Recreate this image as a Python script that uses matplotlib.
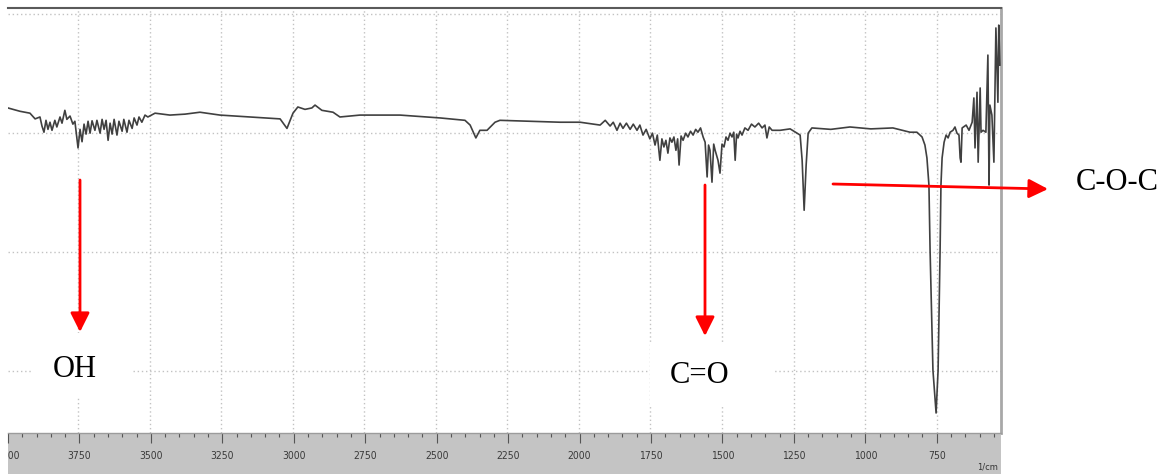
import matplotlib
matplotlib.use("Agg")
import matplotlib.pyplot as plt
from matplotlib.patches import Rectangle, FancyArrowPatch

# ---------------- data ----------------
wavenumber = [
    # 4000-3500 (O-H region)
    3995, 3953, 3918, 3900, 3883, 3876, 3869, 3862, 3855, 3848,
    3841, 3831, 3824, 3813, 3806, 3796, 3789, 3778, 3768, 3761,
    3756, 3750, 3743, 3736, 3729, 3722, 3715, 3708, 3701, 3691,
    3684, 3673, 3666, 3659, 3652, 3645, 3638, 3631, 3624, 3614,
    3607, 3596, 3590, 3579, 3572, 3561, 3554, 3544, 3537, 3527,
    3516, 3506,
    # 3500-2000
    3481, 3429, 3376, 3324, 3254, 3149, 3044, 3020, 2999, 2982,
    2957, 2933, 2922, 2898, 2859, 2835, 2765, 2625, 2485, 2398,
    2380, 2360, 2346, 2321, 2293, 2276, 2066, 1996,
    # 2000-1300 (C=O region)
    1926, 1908, 1891, 1880, 1867, 1856, 1846, 1834, 1821, 1810,
    1797, 1787, 1776, 1765, 1752, 1743, 1734, 1726, 1717, 1710,
    1703, 1696, 1689, 1682, 1675, 1668, 1661, 1655, 1650, 1643,
    1636, 1627, 1619, 1610, 1601, 1592, 1584, 1575, 1566, 1559,
    1552, 1547, 1542, 1535, 1529, 1524, 1514, 1507, 1500, 1493,
    1486, 1479, 1472, 1465, 1459, 1454, 1449, 1444, 1437, 1430,
    1420, 1409, 1397, 1385, 1372, 1360, 1350, 1343, 1335, 1325,
    # 1300-520
    1297, 1262, 1238, 1227, 1220, 1213, 1206, 1199, 1186, 1120,
    1053, 980, 903, 843, 819, 801, 791, 784, 777, 773,
    763, 752, 745, 738, 735, 731, 724, 717, 710, 703,
    693, 686, 679, 672, 668, 665, 661, 647, 637, 626,
    620, 616, 609, 605, 598, 595, 588, 578, 571, 567,
    564, 557, 550, 543, 536, 533, 529,
]
transmittance = [
    80.3, 79.6, 79.2, 78.0, 78.4, 76.5, 75.2, 77.7, 75.8, 77.3,
    75.6, 77.7, 76.3, 78.4, 77.1, 79.8, 77.9, 78.6, 76.9, 77.5,
    75.0, 71.9, 75.8, 73.2, 76.9, 74.8, 77.5, 75.0, 77.6, 75.6,
    77.7, 75.0, 77.9, 75.8, 77.7, 73.5, 77.1, 74.8, 77.9, 74.6,
    77.5, 75.4, 77.9, 75.2, 77.7, 76.0, 78.2, 76.7, 78.4, 77.3,
    78.8, 78.4,
    79.2, 78.8, 79.0, 79.4, 78.8, 78.4, 78.0, 76.0, 79.2, 80.5,
    80.0, 80.3, 80.9, 79.8, 79.4, 78.4, 78.8, 78.8, 78.2, 77.7,
    76.7, 74.0, 75.6, 75.6, 77.3, 77.7, 77.3, 77.3,
    76.7, 77.7, 76.5, 77.3, 75.6, 77.1, 76.0, 77.1, 75.8, 76.9,
    75.6, 76.7, 74.6, 75.8, 73.8, 75.0, 72.5, 74.6, 69.3, 73.8,
    72.1, 73.5, 70.8, 74.0, 73.1, 74.2, 71.4, 73.8, 68.3, 74.4,
    73.5, 75.0, 74.2, 75.4, 74.6, 75.8, 75.2, 76.1, 74.2, 73.1,
    65.8, 72.5, 71.4, 64.7, 72.7, 71.4, 69.3, 66.6, 72.7, 72.1,
    74.2, 73.5, 75.0, 74.2, 75.2, 69.3, 74.8, 74.0, 75.4, 74.6,
    76.1, 75.6, 76.9, 76.3, 77.1, 76.1, 76.7, 74.0, 76.3, 75.6,
    75.6, 75.9, 75.0, 74.6, 69.3, 58.8, 68.3, 75.0, 76.1, 75.8,
    76.3, 75.9, 76.1, 75.2, 75.2, 74.2, 72.5, 69.8, 64.1, 50.4,
    25.2, 16.2, 25.2, 50.4, 64.1, 69.8, 73.1, 74.6, 74.0, 75.2,
    75.6, 76.3, 75.0, 74.6, 69.8, 68.9, 76.1, 76.7, 75.6, 77.3,
    82.4, 71.9, 83.6, 68.9, 84.5, 75.2, 75.6, 75.2, 91.4, 64.1,
    80.9, 78.8, 68.9, 97.1, 81.5, 97.7, 89.3,
]
assert len(wavenumber) == len(transmittance)

tick_values = [4000, 3750, 3500, 3250, 3000, 2750, 2500, 2250, 2000,
               1750, 1500, 1250, 1000, 750]
grid_x = [3750, 3500, 3250, 3000, 2750, 2500, 2250, 2000, 1750, 1500, 1250, 1000, 750]
grid_y = [100, 75, 50, 25]

labels = ["OH", "C=O", "C-O-C"]

# ---------------- figure ----------------
W, H = 1164, 474
fig = plt.figure(figsize=(W / 100, H / 100), dpi=100)
fig.patch.set_facecolor("white")

def fx(px):
    return px / W

def fy(py):
    return 1 - py / H

XL = (3994.7, 525.2)
ax = fig.add_axes([fx(8), fy(433), fx(1001) - fx(8), fy(8) - fy(433)])
ax.set_xlim(*XL)
ax.set_ylim(12.0, 101.3)
ax.set_facecolor("white")
for gx in grid_x:
    ax.axvline(gx, color="#c2c2c2", lw=1.0, ls=(0, (1, 2)), zorder=1)
for gy in grid_y:
    ax.axhline(gy, color="#c2c2c2", lw=1.0, ls=(0, (1, 2)), zorder=1)
ax.plot(wavenumber, transmittance, color="#404040", lw=1.2, zorder=3)
ax.set_xticks([])
ax.set_yticks([])
for s in ["left", "bottom"]:
    ax.spines[s].set_visible(False)
ax.spines["top"].set_color("#5a5a5a")
ax.spines["top"].set_linewidth(1.5)
ax.spines["right"].set_color("#a8a8a8")
ax.spines["right"].set_linewidth(2.0)

# bottom gray band axis
bx = fig.add_axes([fx(8), 0, fx(1001) - fx(8), fy(433)])
bx.set_xlim(*XL)
bx.set_ylim(0, 1)
bx.set_facecolor("#c4c4c4")
for s in ["left", "bottom", "right"]:
    bx.spines[s].set_visible(False)
bx.spines["top"].set_color("#9c9c9c")
bx.spines["top"].set_linewidth(1.0)
bx.set_yticks([])
bx.xaxis.set_ticks_position("top")
bx.set_xticks(tick_values)
bx.set_xticks(list(range(550, 4001, 50)), minor=True)
bx.tick_params(axis="x", which="major", direction="in", length=7, width=0.8,
               color="#555555", labeltop=False, labelbottom=False)
bx.tick_params(axis="x", which="minor", direction="in", length=3, width=0.8,
               color="#555555")
for tv in tick_values:
    bx.text(tv, 0.45, str(tv), ha="center", va="center", fontsize=7.5,
            family=["DejaVu Sans"], fontstretch="condensed", color="#3a3a3a",
            clip_on=True)
fig.text(fx(988), fy(469), "1/cm", ha="center", va="baseline", fontsize=6,
         color="#333333")

# white label boxes
fig.add_artist(Rectangle((fx(32), fy(397)), fx(132) - fx(32), fy(333) - fy(397),
                         transform=fig.transFigure, facecolor="white",
                         edgecolor="none", zorder=5))
fig.add_artist(Rectangle((fx(650), fy(407)), fx(774) - fx(650), fy(343) - fy(407),
                         transform=fig.transFigure, facecolor="white",
                         edgecolor="none", zorder=5))

serif = ["Liberation Serif", "DejaVu Serif"]
fig.text(fx(74.5), fy(377), labels[0], ha="center", va="baseline",
         fontsize=22, family=serif, color="black", zorder=6)
fig.text(fx(700), fy(383), labels[1], ha="center", va="baseline",
         fontsize=22, family=serif, color="black", zorder=6)
fig.text(fx(1117), fy(190), labels[2], ha="center", va="baseline",
         fontsize=22, family=serif, color="black", zorder=6)

def arrow(x0, y0, x1, y1):
    a = FancyArrowPatch((fx(x0), fy(y0)), (fx(x1), fy(y1)),
                        transform=fig.transFigure,
                        arrowstyle="-|>,head_length=0.4,head_width=0.2",
                        mutation_scale=29, color="#ff0000", lw=2.0,
                        shrinkA=0, shrinkB=0, zorder=7)
    fig.add_artist(a)

arrow(80, 180, 80, 332)
arrow(705, 185, 705, 336)
arrow(833, 184, 1048, 189)

fig.savefig("out.png", dpi=100, facecolor="white")
